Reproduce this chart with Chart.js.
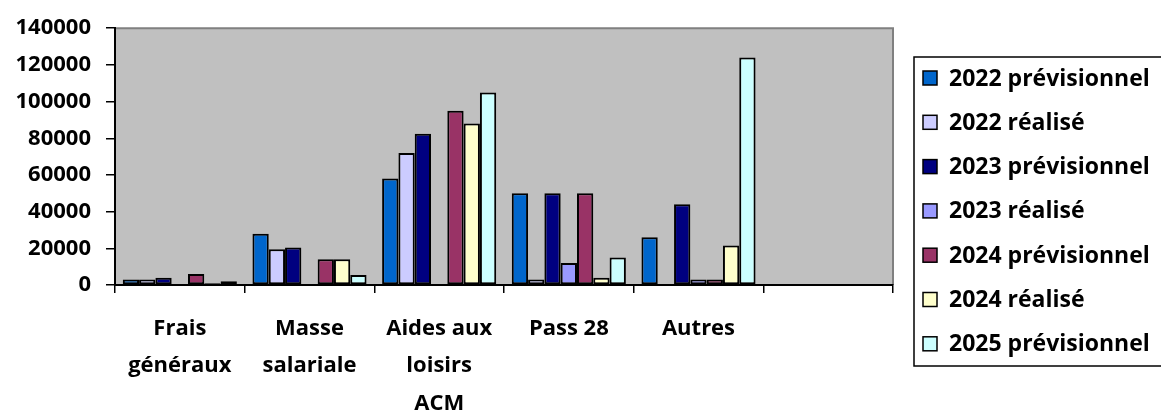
<!DOCTYPE html>
<html>
<head>
<meta charset="utf-8">
<script src="https://cdn.jsdelivr.net/npm/chart.js@4/dist/chart.umd.min.js"></script>
<style>
  html, body { margin: 0; padding: 0; background: #fff; }
  #wrap { width: 1161px; height: 412px; }
</style>
</head>
<body>
<div id="wrap"><canvas id="budgetChart"></canvas></div>
<script>
// Categories (the last one is empty in the original)
const categories = [['Frais', 'généraux'], ['Masse', 'salariale'], ['Aides aux', 'loisirs', 'ACM'], 'Pass 28', 'Autres', ''];

// Series values
const prev2022 = [3000, 28000, 58000, 50000, 26000, 0];
const real2022 = [3000, 19500, 72000, 3000, 0, 0];
const prev2023 = [4000, 20500, 82500, 50000, 44000, 0];
const real2023 = [0, 0, 0, 12000, 3000, 0];
const prev2024 = [6000, 14000, 95000, 50000, 3000, 0];
const real2024 = [1000, 14000, 88000, 4000, 21500, 0];
const prev2025 = [2000, 5500, 105000, 15000, 124000, 0];

const seriesNames = ['2022 prévisionnel', '2022 réalisé', '2023 prévisionnel', '2023 réalisé',
                     '2024 prévisionnel', '2024 réalisé', '2025 prévisionnel'];
const seriesColors = ['#0066CC', '#CCCCFF', '#000080', '#9999FF', '#993366', '#FFFFCC', '#CCFFFF'];
const seriesData = [prev2022, real2022, prev2023, real2023, prev2024, real2024, prev2025];

const FONT = { family: '"Open Sans", sans-serif', size: 22, weight: 'bold' };

// grey plot area with a thin grey frame, like the spreadsheet chart
const plotArea = {
    id: 'plotArea',
    beforeDraw(chart) {
        const { ctx, chartArea: a } = chart;
        ctx.save();
        ctx.fillStyle = '#C0C0C0';
        ctx.fillRect(a.left, a.top, a.right - a.left, a.bottom - a.top);
        ctx.strokeStyle = '#808080';
        ctx.lineWidth = 2;
        ctx.beginPath();
        ctx.moveTo(a.left, a.top);
        ctx.lineTo(a.right, a.top);
        ctx.lineTo(a.right, a.bottom);
        ctx.stroke();
        ctx.restore();
    }
};

// boxed legend on the right
const boxedLegend = {
    id: 'boxedLegend',
    afterDraw(chart) {
        const ctx = chart.ctx;
        const x0 = 914, y0 = 57, y1 = 366;
        ctx.save();
        ctx.strokeStyle = '#000';
        ctx.lineWidth = 1.5;
        ctx.strokeRect(x0, y0, 1161 - x0 + 5, y1 - y0);
        ctx.font = 'bold 23px "Open Sans", sans-serif';
        ctx.textBaseline = 'middle';
        chart.data.datasets.forEach((ds, i) => {
            const cy = 78 + i * 44.3;
            ctx.fillStyle = ds.backgroundColor;
            ctx.fillRect(923, cy - 7, 14, 14);
            ctx.lineWidth = 1.5;
            ctx.strokeStyle = '#000';
            ctx.strokeRect(923, cy - 7, 14, 14);
            ctx.fillStyle = '#000';
            ctx.fillText(ds.label, 949, cy + 1);
        });
        ctx.restore();
    }
};

const ctx = document.getElementById('budgetChart').getContext('2d');
const budgetChart = new Chart(ctx, {
    type: 'bar',
    data: {
        labels: categories,
        datasets: seriesNames.map((name, i) => ({
            label: name,
            data: seriesData[i],
            backgroundColor: seriesColors[i],
            borderColor: '#000',
            borderWidth: 2,
            borderSkipped: false,
            categoryPercentage: 0.88,
            barPercentage: 1
        }))
    },
    options: {
        responsive: true,
        maintainAspectRatio: false,
        animation: false,
        layout: { padding: { left: 0, top: 23, right: 268, bottom: 0 } },
        plugins: {
            legend: { display: false },
            tooltip: { enabled: false }
        },
        scales: {
            x: {
                grid: { display: true, offset: true, drawOnChartArea: false, tickLength: 8, color: '#000', lineWidth: 1.5 },
                border: { color: '#000', width: 2 },
                ticks: { color: '#000', font: { ...FONT, lineHeight: 1.7 }, padding: 17, maxRotation: 0, autoSkip: false },
                afterFit(scale) { scale.height = 127; }
            },
            y: {
                min: 0,
                max: 140000,
                grid: { display: true, drawOnChartArea: false, tickLength: 9, color: '#000', lineWidth: 1.5 },
                border: { color: '#000', width: 2 },
                ticks: { stepSize: 20000, color: '#000', font: FONT, padding: 15, callback: (v) => String(v) },
                afterFit(scale) { scale.width = 115; }
            }
        }
    },
    plugins: [plotArea, boxedLegend]
});
</script>
</body>
</html>
